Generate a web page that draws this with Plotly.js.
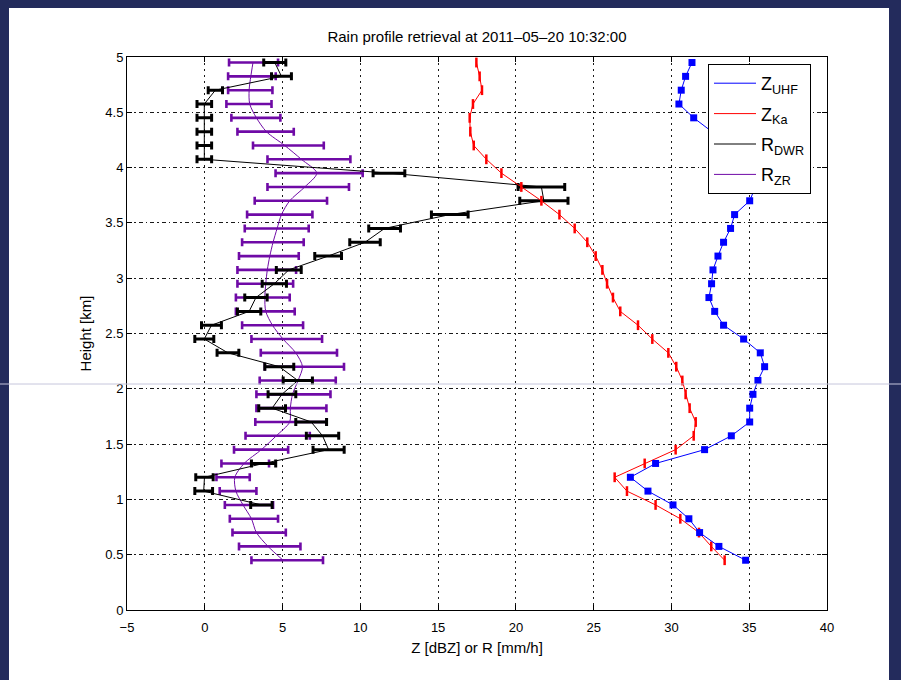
<!DOCTYPE html>
<html>
<head>
<meta charset="utf-8">
<script src="https://cdn.plot.ly/plotly-3.0.1.min.js"></script>
<style>
  html, body { margin: 0; padding: 0; background: #ffffff; }
  #chart { width: 901px; height: 680px; }
</style>
</head>
<body>
<div id="chart"></div>
<script>
// Range-gate heights [km]
const heights = [0.45, 0.575, 0.7, 0.825, 0.95, 1.075, 1.2, 1.325, 1.45, 1.575,
  1.7, 1.825, 1.95, 2.075, 2.2, 2.325, 2.45, 2.575, 2.7, 2.825,
  2.95, 3.075, 3.2, 3.325, 3.45, 3.575, 3.7, 3.825, 3.95, 4.075,
  4.2, 4.325, 4.45, 4.575, 4.7, 4.825, 4.95];

// UHF reflectivity [dBZ]
const zUHF = [34.77, 33.05, 31.81, 31.12, 30.10, 28.49, 27.36, 28.98, 32.13, 33.85,
  35.03, 35.03, 35.24, 35.56, 35.99, 35.71, 34.64, 33.35, 32.78, 32.41,
  32.58, 32.67, 32.99, 33.35, 33.80, 34.06, 35.03, 35.40, 35.20, 34.50,
  33.60, 32.60, 31.43, 30.48, 30.63, 30.91, 31.32];

// Ka-band reflectivity [dBZ]
const zKa = [33.42, 32.56, 31.77, 30.57, 28.98, 27.14, 26.35, 28.28, 30.27, 31.43,
  31.56, 31.17, 30.91, 30.70, 30.31, 29.80, 28.77, 27.85, 26.71, 26.24,
  25.86, 25.56, 25.13, 24.59, 23.78, 22.80, 21.64, 20.35, 19.07, 18.10,
  17.29, 17.07, 17.03, 17.24, 17.82, 17.67, 17.46];

// Dual-wavelength rain rate [mm/h] and its uncertainty
const rDWR = [null, null, null, null, 3.64, -0.07, -0.02, 3.78, 7.96, 7.57,
  6.84, 4.33, 4.96, 5.98, 4.79, 1.49, -0.03, 0.43, 2.85, 3.29,
  4.47, 5.40, 7.93, 10.30, 11.56, 15.75, 21.80, 21.64, 11.84, -0.03,
  -0.03, -0.03, -0.03, -0.03, 0.68, 4.93, 4.50];
const rDWRerr = [null, null, null, null, 0.69, 0.57, 0.56, 0.78, 1.00, 1.04,
  0.99, 0.86, 0.89, 0.94, 0.93, 0.70, 0.61, 0.64, 0.75, 0.72,
  0.78, 0.80, 0.86, 0.98, 1.02, 1.18, 1.55, 1.50, 1.02, 0.47,
  0.47, 0.47, 0.47, 0.47, 0.46, 0.64, 0.71];

// Z-R rain rate [mm/h] with lower / upper bounds
const rZR = [5.03, 4.07, 3.32, 3.00, 2.46, 2.00, 1.93, 2.53, 3.64, 4.60,
  5.46, 5.50, 5.64, 6.00, 6.28, 5.85, 5.03, 4.35, 3.92, 3.86,
  3.92, 4.02, 4.18, 4.39, 4.65, 4.93, 5.46, 6.43, 7.20, 6.21,
  5.14, 3.96, 3.32, 2.89, 2.85, 2.96, 3.10];
const rZRlow = [3.00, 2.20, 1.78, 1.61, 1.29, 0.96, 0.75, 1.07, 1.88, 2.62,
  3.25, 3.32, 3.32, 3.53, 3.86, 3.60, 3.00, 2.40, 2.00, 2.00,
  2.10, 2.10, 2.20, 2.40, 2.57, 2.72, 3.21, 4.03, 4.55, 4.03,
  3.10, 2.10, 1.71, 1.39, 1.50, 1.50, 1.56];
const rZRhigh = [7.60, 6.15, 5.21, 4.71, 4.39, 3.32, 2.89, 4.13, 5.36, 6.75,
  7.82, 7.82, 8.08, 8.42, 8.95, 8.50, 7.54, 6.32, 5.78, 5.46,
  5.68, 5.87, 6.04, 6.36, 6.68, 6.92, 7.86, 9.27, 10.15, 9.36,
  7.65, 5.72, 4.86, 4.29, 4.35, 4.56, 4.71];

const xTicks = [-5, 0, 5, 10, 15, 20, 25, 30, 35, 40];
const yTicks = [0, 0.5, 1, 1.5, 2, 2.5, 3, 3.5, 4, 4.5, 5];

const seriesNames = ['Z<sub>UHF</sub>', 'Z<sub>Ka</sub>', 'R<sub>DWR</sub>', 'R<sub>ZR</sub>'];
const seriesColors = ['#0000ff', '#ff0000', '#000000', '#6f0aa6'];

const FONT = 'Liberation Sans, Arial, Helvetica, sans-serif';

const zrPlus = rZRhigh.map((v, i) => v - rZR[i]);
const zrMinus = rZR.map((v, i) => v - rZRlow[i]);

const traces = [
  {
    x: rZR, y: heights, type: 'scatter', mode: 'lines', showlegend: false,
    line: { color: seriesColors[3], width: 1, shape: 'spline', smoothing: 0.8 },
    error_x: { type: 'data', symmetric: false, array: zrPlus, arrayminus: zrMinus,
      color: seriesColors[3], thickness: 2.6, width: 4 }
  },
  {
    x: rDWR, y: heights, type: 'scatter', mode: 'lines', showlegend: false,
    line: { color: seriesColors[2], width: 1 },
    error_x: { type: 'data', array: rDWRerr, color: seriesColors[2], thickness: 3, width: 4 }
  },
  {
    x: zKa, y: heights, type: 'scatter', mode: 'lines+markers', showlegend: false,
    line: { color: seriesColors[1], width: 1 },
    marker: { symbol: 'line-ns-open', size: 7, color: seriesColors[1],
      line: { color: seriesColors[1], width: 2.5 } }
  },
  {
    x: zUHF, y: heights, type: 'scatter', mode: 'lines+markers', showlegend: false,
    line: { color: seriesColors[0], width: 1 },
    marker: { symbol: 'square', size: 7, color: seriesColors[0] }
  }
];

// Legend entries (lines only)
seriesNames.forEach((name, i) => {
  traces.push({
    x: [null], y: [null], type: 'scatter', mode: 'lines', name: name,
    legendgroup: 'g' + i, legendrank: i + 1,
    line: { color: seriesColors[i], width: 1 }
  });
});

// Paper-coordinate helpers for the surrounding frame (pixels -> paper)
const L = 127, R = 74, T = 57, B = 70, W = 901, H = 680;
const pw = W - L - R, ph = H - T - B;
const px = v => (v - L) / pw;
const py = v => (H - B - v) / ph;
const navy = '#232b5c';

const shapes = [
  { type: 'rect', xref: 'paper', yref: 'paper', x0: px(0), x1: px(9), y0: py(H), y1: py(0),
    fillcolor: navy, line: { width: 0 }, layer: 'below' },
  { type: 'rect', xref: 'paper', yref: 'paper', x0: px(0), x1: px(W), y0: py(8), y1: py(0),
    fillcolor: navy, line: { width: 0 }, layer: 'below' },
  { type: 'rect', xref: 'paper', yref: 'paper', x0: px(889), x1: px(W), y0: py(H), y1: py(0),
    fillcolor: navy, line: { width: 0 }, layer: 'below' },
  { type: 'line', xref: 'paper', yref: 'paper', x0: px(0), x1: px(W), y0: py(384), y1: py(384),
    line: { color: '#c6c6dc', width: 1 }, layer: 'above' }
];

const axisCommon = {
  showline: true, linecolor: '#000', linewidth: 1, mirror: 'ticks',
  ticks: 'inside', ticklen: 5, tickcolor: '#000', tickwidth: 1,
  showgrid: true, gridcolor: '#1a1a1a', gridwidth: 1,
  zeroline: false, tickfont: { family: FONT, size: 13, color: '#000' }
};

const layout = {
  width: W, height: H,
  margin: { l: L, r: R, t: T, b: B },
  paper_bgcolor: '#ffffff', plot_bgcolor: '#ffffff',
  font: { family: FONT, color: '#000' },
  title: { text: 'Rain profile retrieval at 2011–05–20 10:32:00',
    font: { family: FONT, size: 15, color: '#000' },
    x: (L + pw / 2) / W, xanchor: 'center', xref: 'container',
    y: 1 - 37 / H, yanchor: 'middle', yref: 'container' },
  xaxis: Object.assign({}, axisCommon, {
    range: [-5, 40], tickmode: 'array', tickvals: xTicks, griddash: '2px,4px',
    ticklabelstandoff: 5,
    title: { text: 'Z [dBZ] or R [mm/h]', font: { family: FONT, size: 15 }, standoff: 8 }
  }),
  yaxis: Object.assign({}, axisCommon, {
    range: [0, 5], tickmode: 'array', tickvals: yTicks, griddash: '4px,3px,1.5px,3px',
    title: { text: 'Height [km]', font: { family: FONT, size: 15 }, standoff: 10 }
  }),
  legend: {
    x: px(708), y: py(64), xanchor: 'left', yanchor: 'top',
    bgcolor: '#ffffff', bordercolor: '#000', borderwidth: 1,
    font: { family: FONT, size: 18, color: '#000' },
    tracegroupgap: 4, traceorder: 'grouped', itemwidth: 42
  },
  shapes: shapes,
  showlegend: true
};

Plotly.newPlot('chart', traces, layout, { displayModeBar: false, staticPlot: true });
</script>
</body>
</html>
